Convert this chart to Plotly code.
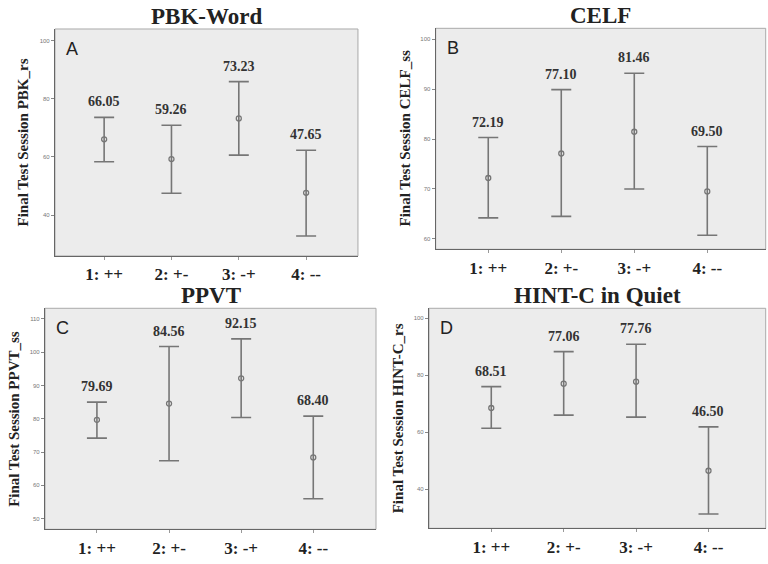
import plotly.graph_objects as go

groups = ["1: ++", "2: +-", "3: -+", "4: --"]

pbk_mean = [66.05, 59.26, 73.23, 47.65]
pbk_upper = [73.6, 70.9, 85.9, 62.3]
pbk_lower = [58.3, 47.5, 60.6, 32.8]

celf_mean = [72.19, 77.10, 81.46, 69.50]
celf_upper = [80.3, 89.9, 93.2, 78.5]
celf_lower = [64.2, 64.5, 70.0, 60.7]

ppvt_mean = [79.69, 84.56, 92.15, 68.40]
ppvt_upper = [85.0, 101.7, 104.0, 80.8]
ppvt_lower = [74.2, 67.4, 80.4, 56.0]

hint_mean = [68.51, 77.06, 77.76, 46.50]
hint_upper = [76.0, 88.3, 90.9, 61.9]
hint_lower = [61.4, 66.0, 65.3, 31.3]

panels = [
    dict(title="PBK-Word", letter="A", ytitle="Final Test Session PBK_rs",
         mean=pbk_mean, upper=pbk_upper, lower=pbk_lower,
         yrange=[25.9, 104.0], ticks=[40, 60, 80, 100], xrange=[0.27, 4.77],
         xdom=[0.0716, 0.4661], ydom=[0.5461, 0.9486]),
    dict(title="CELF", letter="B", ytitle="Final Test Session CELF_ss",
         mean=celf_mean, upper=celf_upper, lower=celf_lower,
         yrange=[57.9, 102.2], ticks=[60, 70, 80, 90, 100], xrange=[0.28, 4.8],
         xdom=[0.5673, 0.9970], ydom=[0.5580, 0.9498]),
    dict(title="PPVT", letter="C", ytitle="Final Test Session PPVT_ss",
         mean=ppvt_mean, upper=ppvt_upper, lower=ppvt_lower,
         yrange=[46.8, 113.2], ticks=[50, 60, 70, 80, 90, 100, 110], xrange=[0.28, 4.87],
         xdom=[0.0586, 0.4896], ydom=[0.0615, 0.4534]),
    dict(title="HINT-C in Quiet", letter="D", ytitle="Final Test Session HINT-C_rs",
         mean=hint_mean, upper=hint_upper, lower=hint_lower,
         yrange=[26.3, 103.5], ticks=[40, 60, 80, 100], xrange=[0.14, 4.79],
         xdom=[0.5586, 0.9970], ydom=[0.0633, 0.4534]),
]

SERIF = "Liberation Serif, Times New Roman, serif"
BAR = "#767676"

fig = go.Figure()
annotations = []
layout = {}

for i, p in enumerate(panels, start=1):
    sfx = "" if i == 1 else str(i)
    xa, ya = "x" + sfx, "y" + sfx
    xpos = [1, 2, 3, 4]
    plus = [u - m for u, m in zip(p["upper"], p["mean"])]
    minus = [m - l for m, l in zip(p["mean"], p["lower"])]
    fig.add_trace(go.Scatter(
        x=xpos, y=p["mean"], mode="markers", xaxis=xa, yaxis=ya,
        marker=dict(symbol="circle-open", size=5, color=BAR, line=dict(width=1.3)),
        error_y=dict(type="data", symmetric=False, array=plus, arrayminus=minus,
                     color=BAR, thickness=1.6, width=10),
        showlegend=False, hoverinfo="skip",
    ))
    layout["xaxis" + sfx] = dict(
        domain=p["xdom"], anchor=ya, range=p["xrange"],
        tickvals=xpos, ticktext=["<b>%s</b>" % g for g in groups],
        ticks="outside", ticklen=3, tickcolor="#999",
        tickfont=dict(family=SERIF, size=17, color="#222"),
        showgrid=False, zeroline=False, showline=True, linecolor="#666", linewidth=1.2,
        mirror=False, fixedrange=True,
    )
    layout["yaxis" + sfx] = dict(
        domain=p["ydom"], anchor=xa, range=p["yrange"],
        tickvals=p["ticks"], ticks="outside", ticklen=3, tickcolor="#888",
        tickfont=dict(family="Liberation Sans, Arial, sans-serif", size=6, color="#777"),
        showgrid=False, zeroline=False, showline=True, linecolor="#666", linewidth=1.2,
        fixedrange=True,
    )
    # panel background with a light frame on top/right
    fig.add_shape(type="rect", xref=xa + " domain", yref=ya + " domain",
                  x0=0, x1=1, y0=0, y1=1, fillcolor="#ececec",
                  line=dict(color="#aaa", width=1), layer="below")
    # panel title
    annotations.append(dict(
        text="<b>%s</b>" % p["title"], xref=xa + " domain", yref=ya + " domain",
        x=0.5, y=1, yanchor="bottom", yshift=-2, showarrow=False,
        font=dict(family=SERIF, size=23, color="#222"),
    ))
    # panel letter
    annotations.append(dict(
        text=p["letter"], xref=xa + " domain", yref=ya + " domain",
        x=0, y=1, xanchor="left", yanchor="top", xshift=9, yshift=-8, showarrow=False,
        font=dict(family="Liberation Sans, Arial, sans-serif", size=18, color="#222"),
    ))
    # y-axis title
    annotations.append(dict(
        text="<b>%s</b>" % p["ytitle"], xref=xa + " domain", yref=ya + " domain",
        x=0, y=0.5, xanchor="center", yanchor="middle", xshift=-31, textangle=-90,
        showarrow=False, font=dict(family=SERIF, size=15, color="#222"),
    ))
    # mean value labels above the upper caps
    for xv, m, u in zip(xpos, p["mean"], p["upper"]):
        annotations.append(dict(
            text="<b>%.2f</b>" % m, xref=xa, yref=ya, x=xv, y=u,
            yanchor="bottom", yshift=6, showarrow=False,
            font=dict(family=SERIF, size=14, color="#333"),
        ))

fig.update_layout(
    width=768, height=564,
    margin=dict(l=0, r=0, t=0, b=0),
    paper_bgcolor="white", plot_bgcolor="rgba(0,0,0,0)",
    annotations=annotations,
    **layout,
)

fig.write_html("out.html", config={"displayModeBar": False},
               post_script="document.body.style.margin='0';")
